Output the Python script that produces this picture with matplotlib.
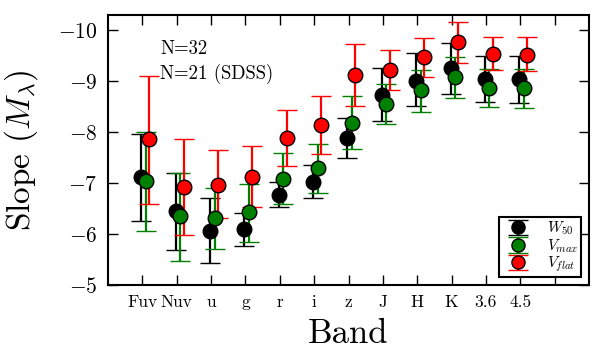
import numpy as np
import matplotlib
matplotlib.use('Agg')
import matplotlib.pyplot as plt

plt.rcParams['font.family'] = 'serif'
plt.rcParams['font.serif'] = ['cmr10', 'DejaVu Serif']
plt.rcParams['mathtext.fontset'] = 'cm'
plt.rcParams['axes.formatter.use_mathtext'] = True

# bandas
bands = ['Fuv', 'Nuv', 'u', 'g', 'r', 'i', 'z', 'J', 'H', 'K', '3.6', '4.5']

# W50
w50 = [-7.12, -6.45, -6.06, -6.10, -6.77, -7.03, -7.89, -8.73, -9.01, -9.25, -9.05, -9.04]
w50_top = [-7.99, -7.21, -6.69, -6.44, -7.01, -7.35, -8.29, -9.25, -9.51, -9.75, -9.50, -9.50]
w50_bot = [-6.27, -5.70, -5.42, -5.78, -6.51, -6.71, -7.50, -8.21, -8.47, -8.76, -8.60, -8.58]

# Vmax
vmax = [-7.04, -6.35, -6.31, -6.43, -7.09, -7.29, -8.18, -8.55, -8.82, -9.08, -8.86, -8.86]
vmax_top = [-8.02, -7.22, -6.91, -7.01, -7.59, -7.78, -8.69, -8.94, -9.25, -9.49, -9.22, -9.24]
vmax_bot = [-6.08, -5.50, -5.71, -5.87, -6.58, -6.81, -7.65, -8.16, -8.42, -8.68, -8.49, -8.48]

# Vflat
vflat = [-7.86, -6.92, -6.96, -7.12, -7.88, -8.14, -9.12, -9.22, -9.47, -9.77, -9.53, -9.52]
vflat_top = [-9.14, -7.85, -7.61, -7.71, -8.43, -8.71, -9.73, -9.62, -9.85, -10.18, -9.84, -9.84]
vflat_bot = [-6.61, -5.97, -6.28, -6.52, -7.32, -7.57, -8.51, -8.82, -9.09, -9.37, -9.20, -9.18]


def yerr(val, top, bot):
    val = np.array(val)
    # eje invertido: "bot" es el valor menos negativo
    return [np.array(bot) - val, val - np.array(top)]


x = np.arange(1, len(bands) + 1)

fig = plt.figure(figsize=(6.04, 3.64), dpi=100)
ax = fig.add_axes([0.179, 0.217, 0.796, 0.742])

series = [
    (w50, w50_top, w50_bot, -0.03, 'black', r'$W_{50}$'),
    (vmax, vmax_top, vmax_bot, 0.10, 'green', r'$V_{max}$'),
    (vflat, vflat_top, vflat_bot, 0.20, 'red', r'$V_{flat}$'),
]
for val, top, bot, dx, col, lab in series:
    ax.errorbar(x + dx, val, yerr=yerr(val, top, bot), fmt='o', color=col,
                mfc=col, mec='black', mew=1.0, ms=10.5, ecolor=col,
                elinewidth=1.6, capsize=7, capthick=1.5, label=lab)

ax.set_xlim(0, 14)
ax.set_ylim(-5, -10.3)
ax.set_xticks(np.arange(1, 14))
ax.set_xticklabels(bands + [''], fontsize=12.5)
ax.set_yticks([-5, -6, -7, -8, -9, -10])
ax.tick_params(axis='y', labelsize=15.5, pad=8)
ax.tick_params(axis='x', pad=7)
ax.tick_params(direction='in', length=7, width=1, top=True, right=True)
for s in ax.spines.values():
    s.set_linewidth(1.5)

ax.set_xlabel('Band', fontsize=25, labelpad=6)
ax.set_ylabel(r'Slope ($M_\lambda$)', fontsize=24)
ax.yaxis.set_label_coords(-0.141, 0.5)

ax.text(0.108, 0.855, 'N=32', transform=ax.transAxes, fontsize=13.5)
ax.text(0.108, 0.762, 'N=21 (SDSS)', transform=ax.transAxes, fontsize=13.5)

leg = ax.legend(loc='lower right', numpoints=1, fontsize=11, fancybox=False,
                framealpha=1, edgecolor='black', borderaxespad=0.5,
                handlelength=2.0, labelspacing=0.0, borderpad=0.2,
                handletextpad=0.9, markerscale=0.9)
leg.get_frame().set_linewidth(1.5)

fig.savefig('out.png', dpi=100)
